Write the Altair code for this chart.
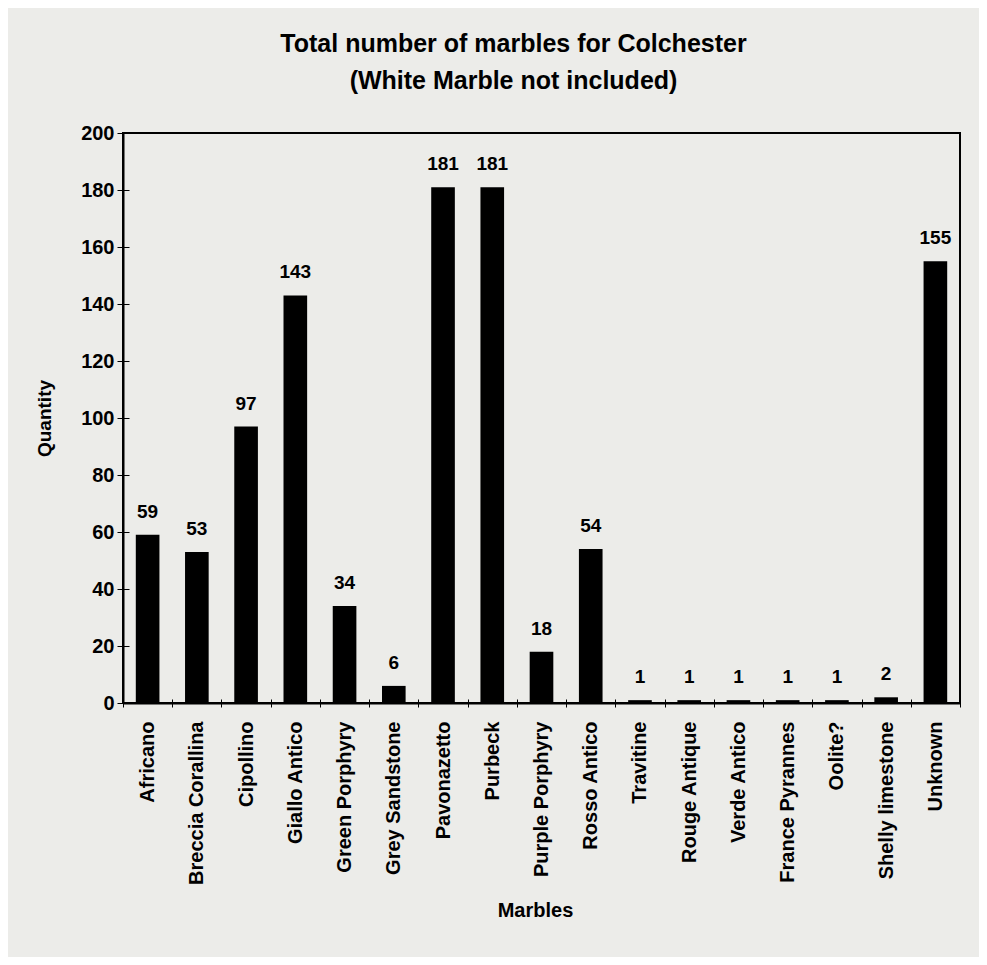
import altair as alt
import pandas as pd

marbles = ["Africano", "Breccia Corallina", "Cipollino", "Giallo Antico",
           "Green Porphyry", "Grey Sandstone", "Pavonazetto", "Purbeck",
           "Purple Porphyry", "Rosso Antico", "Travitine", "Rouge Antique",
           "Verde Antico", "France Pyrannes", "Oolite?", "Shelly limestone",
           "Unknown"]
quantity = [59, 53, 97, 143, 34, 6, 181, 181, 18, 54, 1, 1, 1, 1, 1, 2, 155]
y_ticks = [0, 20, 40, 60, 80, 100, 120, 140, 160, 180, 200]

df = pd.DataFrame({"Marbles": marbles, "Quantity": quantity})

FONT = "Liberation Sans"
BG = "#ecece9"

xscale = alt.Scale(paddingInner=0, paddingOuter=0)
yscale = alt.Scale(domain=[0, 200])

base = alt.Chart(df)

bars = base.mark_bar(color="black", width=alt.RelativeBandSize(0.48)).encode(
    x=alt.X("Marbles:N", sort=marbles, scale=xscale,
            axis=alt.Axis(title="Marbles", labelAngle=270, labelAlign="right",
                          labelBaseline="middle", labelFontSize=20,
                          labelFontWeight="bold", labelFont=FONT,
                          labelColor="black", labelPadding=14,
                          tickBand="extent", tickSize=4, tickColor="black",
                          domainColor="black", domainWidth=2,
                          titleFont=FONT, titleFontSize=20, titleFontWeight="bold",
                          titleColor="black", titleY=207, titleBaseline="middle",
                          titleX=412)),
    y=alt.Y("Quantity:Q", scale=yscale,
            axis=alt.Axis(title="Quantity", values=y_ticks, grid=False,
                          labelFontSize=20, labelFontWeight="bold", labelFont=FONT,
                          labelColor="black", labelPadding=3, tickSize=6,
                          tickColor="black", domainColor="black", domainWidth=2,
                          titleFont=FONT, titleFontSize=19, titleFontWeight="bold",
                          titleColor="black", titlePadding=26)),
)

labels = base.mark_text(dy=-23, fontSize=19, fontWeight="bold", font=FONT,
                        color="black").encode(
    x=alt.X("Marbles:N", sort=marbles, scale=xscale,
            axis=alt.Axis(orient="bottom", offset=-4, labels=False, domain=False,
                          tickBand="extent", tickSize=4, tickColor="black",
                          title=None)),
    y=alt.Y("Quantity:Q", scale=yscale,
            axis=alt.Axis(orient="left", offset=-6, labels=False, domain=False,
                          values=y_ticks, grid=False, tickSize=6,
                          tickColor="black", title=None)),
    text=alt.Text("Quantity:Q"),
)

chart = alt.layer(bars, labels).resolve_axis(x="independent", y="independent").properties(
    width=837,
    height=570,
    autosize=alt.AutoSizeParams(type="none"),
    padding={"left": 115, "top": 125, "right": 19, "bottom": 254},
    background=BG,
    title=alt.TitleParams(
        text=["Total number of marbles for Colchester", "(White Marble not included)"],
        font=FONT, fontSize=25, fontWeight="bold", color="black",
        anchor="middle", dx=-28, offset=29, lineHeight=37,
    ),
).configure_view(stroke="black", strokeWidth=2, fill=BG)

chart.save("out.html", embed_options={"renderer": "svg", "actions": False})
